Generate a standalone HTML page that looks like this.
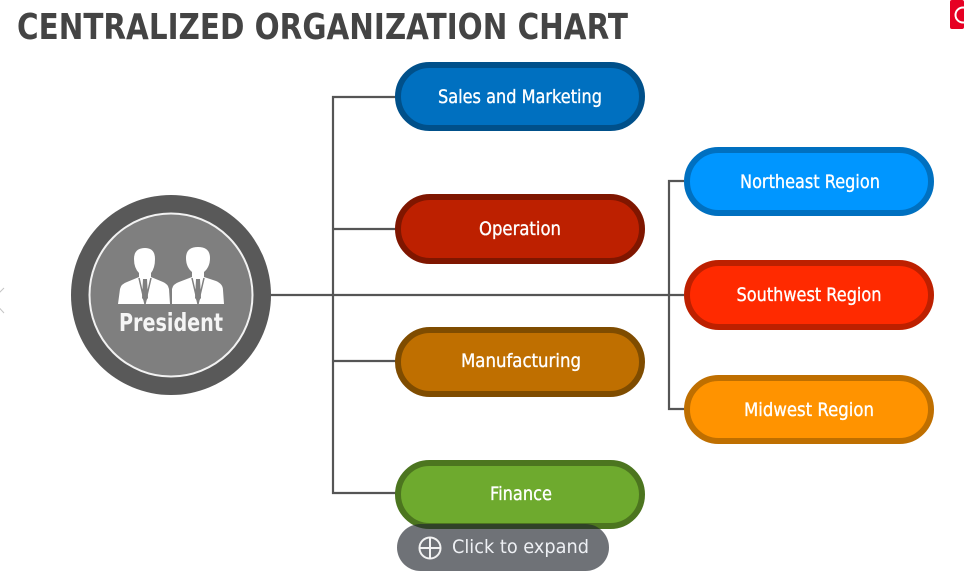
<!DOCTYPE html>
<html><head><meta charset="utf-8"><style>
html,body{margin:0;padding:0;background:#fff}
body{width:964px;height:587px;overflow:hidden;position:relative;font-family:"DejaVu Sans",sans-serif}
svg{position:absolute;left:0;top:0}
</style></head><body>
<svg width="964" height="587" viewBox="0 0 964 587" font-family="'DejaVu Sans',sans-serif">
<rect width="964" height="587" fill="#fff"/>
<text x="17" y="39" font-size="36" font-weight="700" fill="#444" textLength="611" lengthAdjust="spacingAndGlyphs">CENTRALIZED ORGANIZATION CHART</text>
<rect x="950" y="0" width="14" height="29" rx="2" fill="#e60023"/>
<circle cx="963" cy="15" r="7.500" fill="none" stroke="#fff" stroke-width="2"/>
<path d="M4 288L-8 300L4 313" stroke="#c4c4c4" fill="none"/>
<g fill="none" stroke="#555" stroke-width="2.200">
<path d="M271 295H684"/>
<path d="M396 97H333V493H396"/>
<path d="M333 229H396M333 361H396"/>
<path d="M684 181H669V409H684"/>
</g>
<circle cx="171" cy="295" r="100" fill="#595959"/>
<circle cx="171" cy="295" r="81.500" fill="#7f7f7f" stroke="#f2f2f2" stroke-width="2"/>
<g fill="#fff">
<path d="M118 304L120 289Q121 284 127 282L139 277V273Q134 268 134 259Q134 248 145 248Q155 248 155 259Q155 268 151 273V277L163 282Q168 284 169 289L170 304Z"/>
<path d="M172 304V289Q173 284 179 282L192 277V272Q186 267 186 258Q186 247 198 247Q210 247 210 258Q210 267 204 272V277L216 281Q223 284 223 290L224 304Z"/>
</g>
<g fill="none" stroke="#7f7f7f" stroke-width="1.500">
<path d="M139 278L145 304L151 278"/>
<path d="M192 278L198 304L204 278"/>
</g>
<g fill="#7f7f7f">
<path d="M143 279H147L148 298L145 302L142 298Z"/>
<path d="M196 279H200L201 298L198 302L195 298Z"/>
</g>
<text x="171" y="331" text-anchor="middle" font-size="25" font-weight="700" fill="#f5f5f5" textLength="104" lengthAdjust="spacingAndGlyphs">President</text>
<g stroke-width="6">
<rect x="398" y="65" width="244" height="63" rx="31.5" fill="#0070c0" stroke="#00508a"/>
<rect x="398" y="197" width="244" height="64" rx="32" fill="#bd2000" stroke="#7f1600"/>
<rect x="398" y="330" width="244" height="64" rx="32" fill="#bf6f00" stroke="#7f4c00"/>
<rect x="398" y="463" width="244" height="63" rx="31.5" fill="#6eaa2e" stroke="#4c751f"/>
<rect x="687" y="150" width="244" height="63" rx="31.5" fill="#0096ff" stroke="#0070c0"/>
<rect x="687" y="263" width="244" height="64" rx="32" fill="#ff2a00" stroke="#bd2000"/>
<rect x="687" y="378" width="244" height="63" rx="31.5" fill="#ff9300" stroke="#bf6f00"/>
</g>
<g fill="#fff" font-size="19" text-anchor="middle" font-weight="400" stroke="#fff" stroke-width=".35">
<text x="520" y="103" textLength="164" lengthAdjust="spacingAndGlyphs">Sales and Marketing</text>
<text x="520" y="235" textLength="82" lengthAdjust="spacingAndGlyphs">Operation</text>
<text x="521" y="367" textLength="120" lengthAdjust="spacingAndGlyphs">Manufacturing</text>
<text x="521" y="500" textLength="62" lengthAdjust="spacingAndGlyphs">Finance</text>
<text x="810" y="188" textLength="140" lengthAdjust="spacingAndGlyphs">Northeast Region</text>
<text x="809" y="301" textLength="145" lengthAdjust="spacingAndGlyphs">Southwest Region</text>
<text x="809" y="416" textLength="130" lengthAdjust="spacingAndGlyphs">Midwest Region</text>
</g>
<rect x="397" y="524" width="212" height="47" rx="23.5" fill="#22262e" fill-opacity=".65"/>
<circle cx="430" cy="548" r="10.5" fill="none" stroke="#f2f2f2" stroke-width="2"/>
<path d="M430 537.5V558.5M419.500 548H440.500" stroke="#f2f2f2" stroke-width="2"/>
<text x="452" y="553" font-size="19" fill="#eef0f4" textLength="137" lengthAdjust="spacingAndGlyphs">Click to expand</text>
</svg>
</body></html>
